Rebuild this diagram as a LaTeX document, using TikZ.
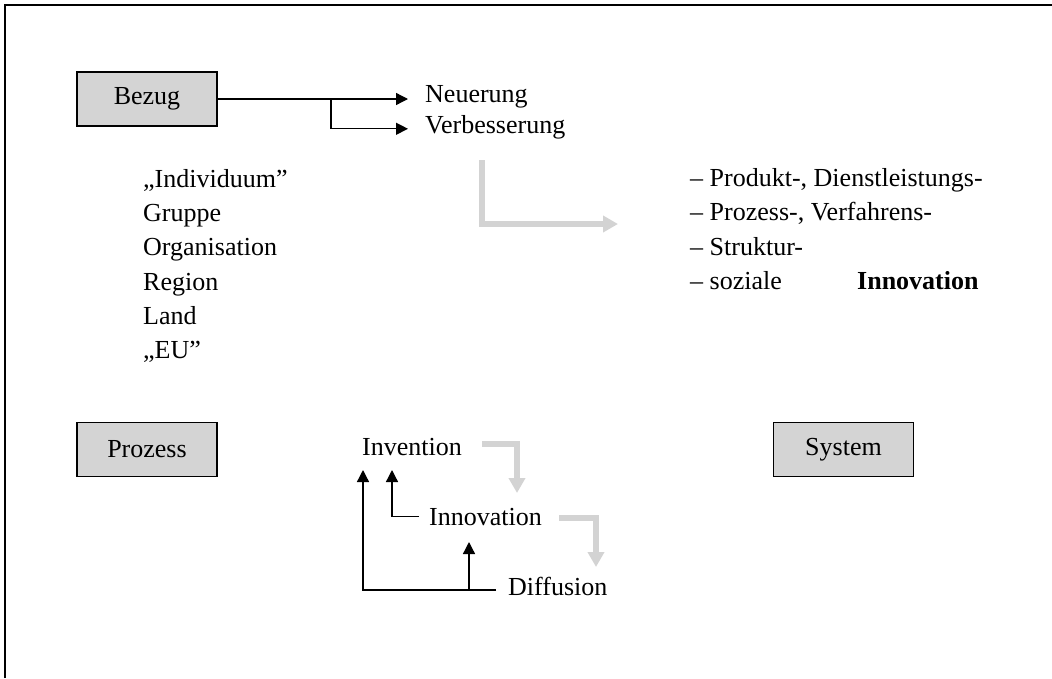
\documentclass[tikz,border=0pt]{standalone}
\usepackage{fontspec}
\setmainfont{Liberation Serif}
\usetikzlibrary{arrows.meta}
\definecolor{boxgray}{RGB}{212,212,212}
\definecolor{arrowgray}{RGB}{211,211,211}
\begin{document}
\begin{tikzpicture}[x=1pt,y=-1pt,
  every node/.style={font=\fontsize{26}{31}\selectfont, inner sep=0pt},
  box/.style={draw, line width=1.3pt, fill=boxgray, minimum width=140pt, minimum height=54pt},
  txt/.style={anchor=base west},
  blk/.style={line width=1.3pt, -{Triangle[length=12pt,width=12pt]}},
  gry/.style={draw=arrowgray, line width=6pt, line join=miter, -{Triangle[length=15pt,width=16pt]}}
]
\useasboundingbox (0,0) rectangle (1052,678);
% frame
\draw[line width=1.6pt] (5,678) -- (5,5) -- (1052,5);

% boxes
\node[box] (bezug) at (147,99) {Bezug};
\node[box] (prozess) at (147,449.5) {Prozess};
\node[box] (system) at (843.5,449.5) {System};

% Bezug targets
\node[txt] (neu) at (425,102) {Neuerung};
\node[txt] (verb) at (425,133) {Verbesserung};
\coordinate (br) at (331,99);
\draw[blk] (bezug.east) -- ([xshift=-17pt]neu.west |- bezug.east);
\draw[blk] (br) |- ([xshift=-17pt,yshift=-2pt]verb.west);

% left list
\node[txt] (l1) at (143,187) {„Individuum”};
\node[txt] (l2) at (143,221) {Gruppe};
\node[txt] (l3) at (143,255) {Organisation};
\node[txt] (l4) at (143,290) {Region};
\node[txt] (l5) at (143,324) {Land};
\node[txt] (l6) at (143,358) {„EU”};

% right list
\node[txt] (r1) at (690,186) {– Produkt-, Dienstleistungs-};
\node[txt] (r2) at (690,220) {– Prozess-, Verfahrens-};
\node[txt] (r3) at (690,255) {– Struktur-};
\node[txt] (r4) at (690,289) {– soziale};
\node[txt,font=\fontsize{26}{31}\selectfont\bfseries] (rinn) at (857,289) {Innovation};

% big gray arrow
\coordinate (g1s) at (482,160);
\coordinate (g1e) at (618,224);
\draw[gry] (g1s) |- (g1e);

% process
\node[txt] (inv) at (362,455) {Invention};
\node[txt] (innov) at (429,525) {Innovation};
\node[txt] (diff) at (508,595) {Diffusion};

\coordinate (g2s) at (482,444);
\coordinate (g2e) at (517,493);
\draw[gry] (g2s) -| (g2e);
\coordinate (g3s) at (559,518);
\coordinate (g3e) at (596,567);
\draw[gry] (g3s) -| (g3e);

\draw[blk] ([xshift=-12pt,yshift=-4pt]diff.west) -| ([xshift=1pt,yshift=-15pt]inv.base west);
\draw[blk] ([xshift=-39pt,yshift=-4pt]diff.west) -- ([xshift=40pt,yshift=-17pt]innov.base west);
\draw[blk] ([xshift=-10pt]innov.west) -| ([xshift=30pt,yshift=-15pt]inv.base west);
\end{tikzpicture}
\end{document}
